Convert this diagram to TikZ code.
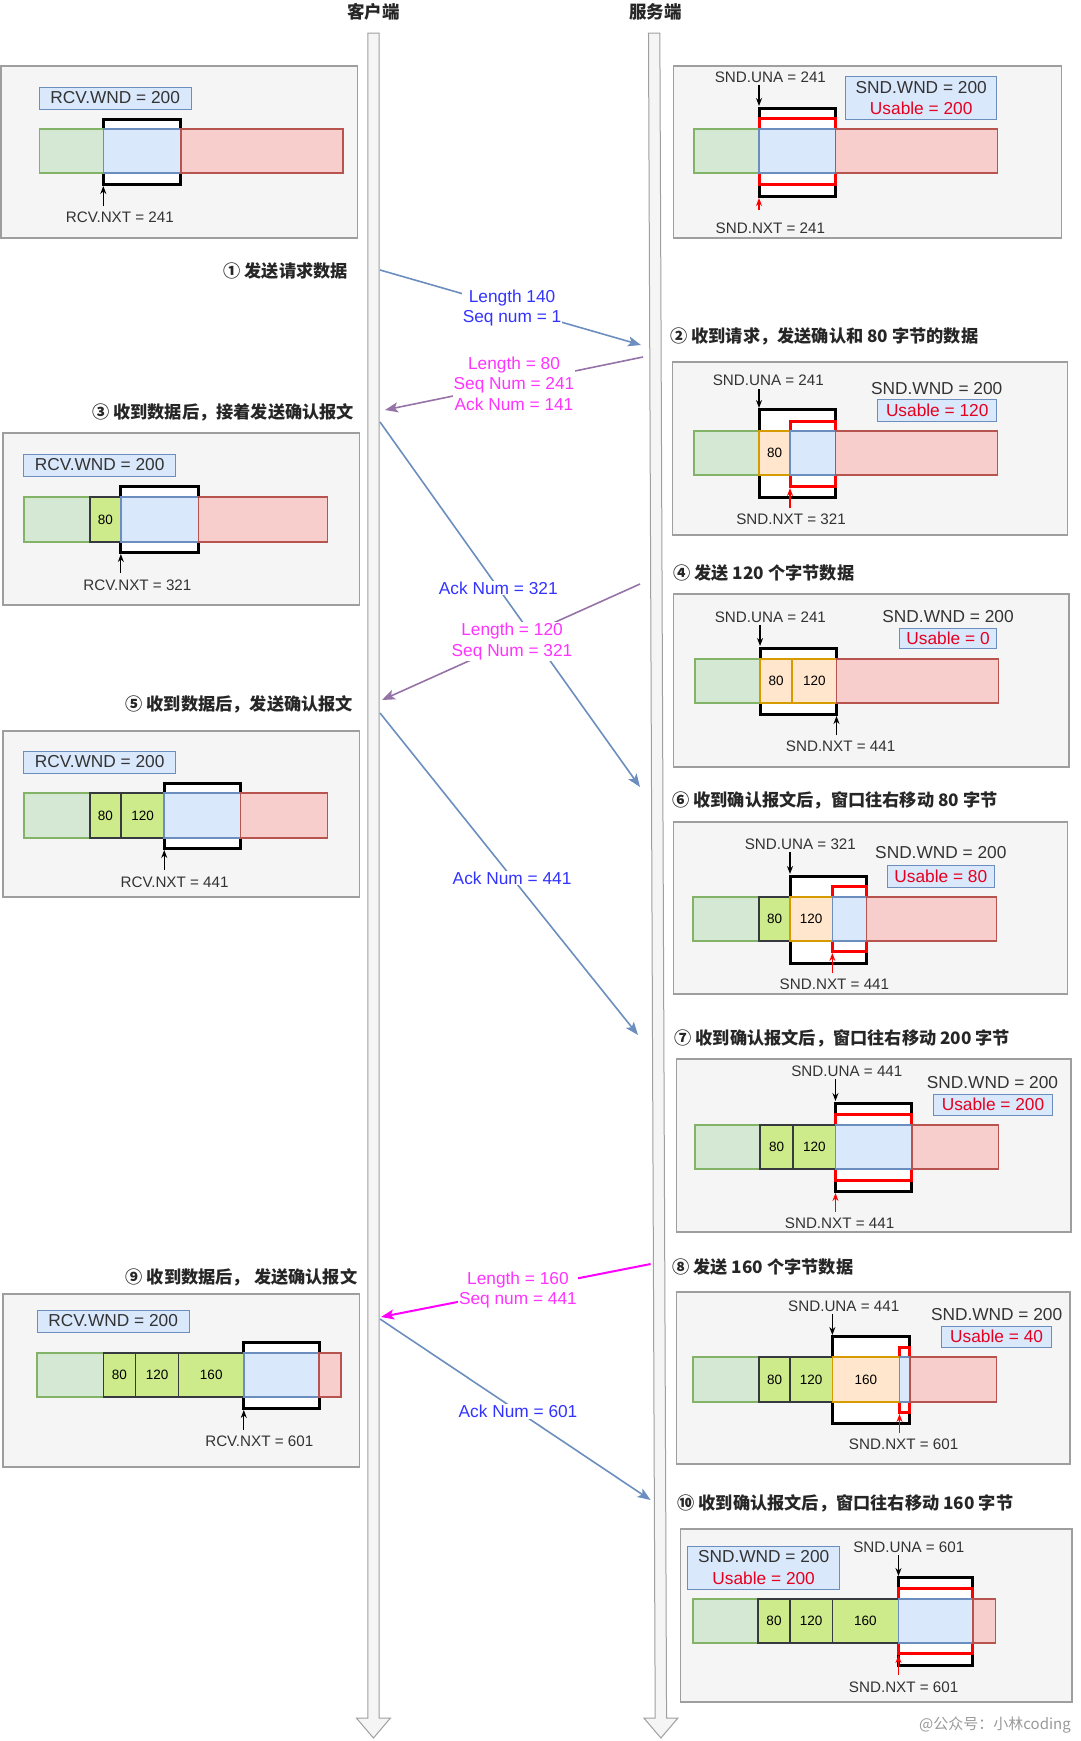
\documentclass[tikz,border=0pt]{standalone}
\usepackage{fontspec}
\setmainfont{Liberation Sans}
\newfontfamily\cjkfont{Noto Sans CJK SC}
\usetikzlibrary{arrows.meta}
\definecolor{panelfill}{HTML}{F5F5F5}
\definecolor{panelline}{HTML}{9E9E9E}
\definecolor{gfill}{HTML}{D5E8D4}\definecolor{gline}{HTML}{82B366}
\definecolor{bfill}{HTML}{DAE8FC}\definecolor{bline}{HTML}{6C8EBF}
\definecolor{rfill}{HTML}{F8CECC}\definecolor{rline}{HTML}{B85450}
\definecolor{ofill}{HTML}{FFE6CC}\definecolor{oline}{HTML}{D79B00}
\definecolor{lgfill}{HTML}{CDEB8B}\definecolor{lgline}{HTML}{36393D}
\definecolor{txt}{HTML}{333333}
\definecolor{usered}{HTML}{E6001F}
\definecolor{lblue}{HTML}{3333FF}
\definecolor{lmag}{HTML}{FF33FF}
\definecolor{arrblue}{HTML}{6C8EBF}
\definecolor{arrpurple}{HTML}{9673A6}
\definecolor{arrmag}{HTML}{FF00FF}
\tikzset{
  panel/.style={fill=panelfill, draw=panelline, line width=1.2pt},
  life/.style={fill=panelfill, draw=gray!75, line width=1pt},
  win/.style={fill=white, draw=black, line width=3pt},
  rwin/.style={fill=white, draw=red, line width=3pt},
  gseg/.style={fill=gfill, draw=gline, line width=1.5pt},
  bseg/.style={fill=bfill, draw=bline, line width=1.5pt},
  rseg/.style={fill=rfill, draw=rline, line width=1.5pt},
  oseg/.style={fill=ofill, draw=oline, line width=1.5pt},
  lgseg/.style={fill=lgfill, draw=lgline, line width=1.5pt},
  infobox/.style={fill=bfill, draw=bline, line width=1pt},
  big/.style={font=\fontsize{17.3}{21}\selectfont, text=txt, inner sep=0pt, align=center},
  small/.style={font=\fontsize{15.2}{18}\selectfont, text=txt, inner sep=0pt},
  num/.style={font=\fontsize{13.5}{15}\selectfont, text=black, inner sep=0pt},
  usable/.style={big, text=usered},
  hdr/.style={font=\cjkfont\bfseries\fontsize{17.5}{20}\selectfont, text=black!85, inner sep=0pt},
  ttl/.style={font=\cjkfont\bfseries\fontsize{17.2}{20}\selectfont, text=black!85, inner sep=0pt},
  ptr/.style={-{Stealth[length=8pt,width=6pt]}, line width=1.2pt},
  rptr/.style={ptr, draw=red},
  conn/.style={line width=1.6pt, -{Stealth[length=13pt,width=10pt,inset=3pt]}},
  clbl/.style={fill=white, inner sep=1pt, font=\fontsize{17.3}{20.5}\selectfont, align=center},
}
\newcommand\segn[7]{\draw[#5] (#1,#3) rectangle (#2,#4); \node[num] (#7) at ({(#1+#2)/2},{(#3+#4)/2}) {#6};}
\begin{document}
\begin{tikzpicture}[x=1pt,y=-1pt]
\useasboundingbox (0,0) rectangle (1080,1741);

% ================= CLIENT SIDE
\begin{scope}[xscale=1.033]
\node[hdr] (client) at (361.5,12) {客户端};
\draw[life] (356,33) -- (367,33) -- (367,1718) -- (378,1718) -- (361.5,1738) -- (345,1718) -- (356,1718) -- cycle;

% panel 1
\draw[panel] (1,66) rectangle (346,238);
\draw[infobox] (38,87) rectangle (185,109);
\node[big] (rw1) at (111.5,98) {RCV.WND = 200};
\draw[win] (100,119) rectangle (175,184);
\draw[gseg] (38,129) rectangle (100,173);
\draw[bseg] (100,129) rectangle (175,173);
\draw[rseg] (175,129) rectangle (332,173);
\node[small] (rn1) at (116,217) {RCV.NXT = 241};
\draw[ptr] (100,206) -- (100,186);
\node[ttl, anchor=east] (t1) at (337,271) {① 发送请求数据};

% panel 3
\node[ttl, anchor=east] (t3) at (343,412) {③ 收到数据后，接着发送确认报文};
\draw[panel] (3,433) rectangle (348,605);
\draw[infobox] (23,454) rectangle (170,476);
\node[big] (rw3) at (96.5,465) {RCV.WND = 200};
\draw[win] (117,486) rectangle (192,552);
\draw[gseg] (23,497) rectangle (87,542);
\segn{87}{117}{497}{542}{lgseg}{80}{n3a}
\draw[bseg] (117,497) rectangle (192,542);
\draw[rseg] (192,497) rectangle (317,542);
\node[small] (rn3) at (133,585) {RCV.NXT = 321};
\draw[ptr] (117,573) -- (117,554);

% panel 5
\node[ttl, anchor=east] (t5) at (342,704) {⑤ 收到数据后，发送确认报文};
\draw[panel] (3,731) rectangle (348,897);
\draw[infobox] (23,751) rectangle (170,773);
\node[big] (rw5) at (96.5,762) {RCV.WND = 200};
\draw[win] (159,783) rectangle (233,848);
\draw[gseg] (23,793) rectangle (87,838);
\segn{87}{117}{793}{838}{lgseg}{80}{n5a}
\segn{117}{159}{793}{838}{lgseg}{120}{n5b}
\draw[bseg] (159,793) rectangle (233,838);
\draw[rseg] (233,793) rectangle (317,838);
\node[small] (rn5) at (169,882) {RCV.NXT = 441};
\draw[ptr] (159,870) -- (159,850);

% panel 9
\node[ttl, anchor=east] (t9) at (346,1277) {⑨ 收到数据后，  发送确认报文};
\draw[panel] (3,1294) rectangle (348,1467);
\draw[infobox] (36,1310) rectangle (183,1332);
\node[big] (rw9) at (109.5,1321) {RCV.WND = 200};
\draw[win] (236,1342) rectangle (309,1408);
\draw[gseg] (36,1353) rectangle (100,1397);
\segn{100}{131}{1353}{1397}{lgseg}{80}{n9a}
\segn{131}{173}{1353}{1397}{lgseg}{120}{n9b}
\segn{173}{236}{1353}{1397}{lgseg}{160}{n9c}
\draw[bseg] (236,1353) rectangle (309,1397);
\draw[rseg] (309,1353) rectangle (330,1397);
\node[small] (rn9) at (251,1441) {RCV.NXT = 601};
\draw[ptr] (236,1430) -- (236,1410);
\end{scope}

% ================= SERVER SIDE
\begin{scope}[xshift=-17.8pt, xscale=1.033]
\node[hdr] (server) at (652,12) {服务端};
\draw[life] (645,33) -- (656,33) -- (662.5,1718) -- (673.5,1718) -- (657,1738) -- (640.5,1718) -- (651.5,1718) -- cycle;

% panel 0
\draw[panel] (669,66) rectangle (1045,238);
\node[small] (su0) at (763,77) {SND.UNA = 241};
\draw[ptr] (752,85) -- (752,106);
\draw[infobox] (836,76) rectangle (982,119);
\node[big] (sw0) at (909,88) {SND.WND = 200};
\node[usable] (us0) at (909,108) {Usable = 200};
\draw[win] (752,108) rectangle (826,196);
\draw[rwin] (752,118) rectangle (826,184);
\draw[gseg] (689,129) rectangle (752,173);
\draw[bseg] (752,129) rectangle (826,173);
\draw[rseg] (826,129) rectangle (983,173);
\draw[rptr] (752,210) -- (752,198);
\node[small] (sn0) at (763,228) {SND.NXT = 241};

% panel 2
\node[ttl, anchor=west] (t2) at (666,336) {② 收到请求，发送确认和 80 字节的数据};
\draw[panel] (668,362) rectangle (1051,535);
\node[small] (su2) at (761,380) {SND.UNA = 241};
\draw[ptr] (752,389) -- (752,408);
\node[big] (sw2) at (924,389) {SND.WND = 200};
\draw[infobox] (867,399) rectangle (982,421);
\node[usable] (us2) at (924.5,410) {Usable = 120};
\draw[win] (752,409) rectangle (826,497);
\draw[rwin] (782,421) rectangle (826,486);
\draw[gseg] (689,431) rectangle (752,475);
\segn{752}{782}{431}{475}{oseg}{80}{n2a}
\draw[bseg] (782,431) rectangle (826,475);
\draw[rseg] (826,431) rectangle (983,475);
\draw[rptr] (782,508) -- (782,488);
\node[small] (sn2) at (783,519) {SND.NXT = 321};

% panel 4
\node[ttl, anchor=west] (t4) at (669,573) {④ 发送 120 个字节数据};
\draw[panel] (669,594) rectangle (1052,767);
\node[small] (su4) at (763,617) {SND.UNA = 241};
\draw[ptr] (753,625) -- (753,646);
\node[big] (sw4) at (935,617) {SND.WND = 200};
\draw[infobox] (888,628) rectangle (982,648);
\node[usable] (us4) at (935,638) {Usable = 0};
\draw[win] (753,648) rectangle (827,714);
\draw[gseg] (690,659) rectangle (753,703);
\segn{753}{784}{659}{703}{oseg}{80}{n4a}
\segn{784}{827}{659}{703}{oseg}{120}{n4b}
\draw[rseg] (827,659) rectangle (984,703);
\draw[ptr] (827,735) -- (827,716);
\node[small] (sn4) at (831,746) {SND.NXT = 441};

% panel 6
\node[ttl, anchor=west] (t6) at (668,800) {⑥ 收到确认报文后，窗口往右移动 80 字节};
\draw[panel] (669,822) rectangle (1051,994);
\node[small] (su6) at (792,844) {SND.UNA = 321};
\draw[ptr] (782,852) -- (782,874);
\node[big] (sw6) at (928,853) {SND.WND = 200};
\draw[infobox] (876,865) rectangle (980,887);
\node[usable] (us6) at (928,876) {Usable = 80};
\draw[win] (782,876) rectangle (856,963);
\draw[rwin] (823,886) rectangle (856,951);
\draw[gseg] (688,897) rectangle (752,941);
\segn{752}{782}{897}{941}{lgseg}{80}{n6a}
\segn{782}{823}{897}{941}{oseg}{120}{n6b}
\draw[bseg] (823,897) rectangle (856,941);
\draw[rseg] (856,897) rectangle (982,941);
\draw[rptr] (823,973) -- (823,953);
\node[small] (sn6) at (825,984) {SND.NXT = 441};

% panel 7
\node[ttl, anchor=west] (t7) at (670,1038) {⑦ 收到确认报文后，窗口往右移动 200 字节};
\draw[panel] (672,1059) rectangle (1054,1232);
\node[small] (su7) at (837,1071) {SND.UNA = 441};
\draw[ptr] (826,1079) -- (826,1101);
\node[big] (sw7) at (978,1083) {SND.WND = 200};
\draw[infobox] (921,1094) rectangle (1036,1115);
\node[usable] (us7) at (978.5,1104.5) {Usable = 200};
\draw[win] (826,1103) rectangle (900,1191);
\draw[rwin] (826,1114) rectangle (900,1180);
\draw[gseg] (690,1125) rectangle (753,1169);
\segn{753}{785}{1125}{1169}{lgseg}{80}{n7a}
\segn{785}{826}{1125}{1169}{lgseg}{120}{n7b}
\draw[bseg] (826,1125) rectangle (900,1169);
\draw[rseg] (900,1125) rectangle (984,1169);
\draw[rptr] (826,1212) -- (826,1193);
\node[small] (sn7) at (830,1223) {SND.NXT = 441};

% panel 8
\node[ttl, anchor=west] (t8) at (668,1267) {⑧ 发送 160 个字节数据};
\draw[panel] (672,1292) rectangle (1053,1464);
\node[small] (su8) at (834,1306) {SND.UNA = 441};
\draw[ptr] (823,1314) -- (823,1335);
\node[big] (sw8) at (982,1315) {SND.WND = 200};
\draw[infobox] (929,1326) rectangle (1035,1347);
\node[usable] (us8) at (982,1336.5) {Usable = 40};
\draw[win] (823,1336) rectangle (898,1423);
\draw[rwin] (888,1347) rectangle (898,1412);
\draw[gseg] (688,1357) rectangle (752,1402);
\segn{752}{782}{1357}{1402}{lgseg}{80}{n8a}
\segn{782}{823}{1357}{1402}{lgseg}{120}{n8b}
\segn{823}{888}{1357}{1402}{oseg}{160}{n8c}
\draw[bseg] (888,1357) rectangle (898,1402);
\draw[rseg] (898,1357) rectangle (982,1402);
\draw[rptr] (888,1433) -- (888,1414);
\node[small] (sn8) at (892,1444) {SND.NXT = 601};

% panel 10
\node[ttl, anchor=west] (t10) at (673,1503) {⑩ 收到确认报文后，窗口往右移动 160 字节};
\draw[panel] (676,1529) rectangle (1055,1702);
\draw[infobox] (683,1546) rectangle (830,1589);
\node[big] (sw10) at (756.5,1557) {SND.WND = 200};
\node[usable] (us10) at (756.5,1578) {Usable = 200};
\node[small] (su10) at (897,1547) {SND.UNA = 601};
\draw[ptr] (887,1555) -- (887,1576);
\draw[win] (887,1577) rectangle (959,1665);
\draw[rwin] (887,1588) rectangle (959,1653);
\draw[gseg] (688,1599) rectangle (751,1643);
\segn{751}{782}{1599}{1643}{lgseg}{80}{n10a}
\segn{782}{823}{1599}{1643}{lgseg}{120}{n10b}
\segn{823}{887}{1599}{1643}{lgseg}{160}{n10c}
\draw[bseg] (887,1599) rectangle (959,1643);
\draw[rseg] (959,1599) rectangle (981,1643);
\draw[rptr] (887,1675) -- (887,1655);
\node[small] (sn10) at (892,1687) {SND.NXT = 601};
\end{scope}

% ================= MESSAGES
\coordinate (m1s) at (380,270);   \coordinate (m1e) at (641,345);
\coordinate (m2s) at (643,357);   \coordinate (m2e) at (385,410);
\coordinate (m3s) at (380,422);   \coordinate (m3e) at (640,787);
\coordinate (m4s) at (640,584);   \coordinate (m4e) at (382,700);
\coordinate (m5s) at (380,713);   \coordinate (m5e) at (638,1035);
\coordinate (m6s) at (650.6,1264);\coordinate (m6e) at (381,1317);
\coordinate (m7s) at (380,1319);  \coordinate (m7e) at (650.6,1500);

\draw[conn, draw=arrblue] (m1s) -- node[clbl, text=lblue, pos=0.506] (l1) {Length 140\\Seq num = 1} (m1e);
\draw[conn, draw=arrpurple] (m2s) -- node[clbl, text=lmag, pos=0.5] (l2) {Length = 80\\Seq Num = 241\\Ack Num = 141} (m2e);
\draw[conn, draw=arrblue] (m3s) -- node[clbl, text=lblue, pos=0.455] (l3) {Ack Num = 321} (m3e);
\draw[conn, draw=arrpurple] (m4s) -- node[clbl, text=lmag, pos=0.496] (l4) {Length = 120\\Seq Num = 321} (m4e);
\draw[conn, draw=arrblue] (m5s) -- node[clbl, text=lblue, pos=0.512] (l5) {Ack Num = 441} (m5e);
\draw[conn, draw=arrmag, line width=2pt] (m6s) -- node[clbl, text=lmag, pos=0.492] (l6) {Length = 160\\Seq num = 441} (m6e);
\draw[conn, draw=arrblue] (m7s) -- node[clbl, text=lblue, pos=0.51] (l7) {Ack Num = 601} (m7e);

% watermark
\node[font=\cjkfont\fontsize{15}{17}\selectfont, text=gray!80, inner sep=0pt] (wm) at (995,1725) {@公众号：小林coding};
\end{tikzpicture}
\end{document}
